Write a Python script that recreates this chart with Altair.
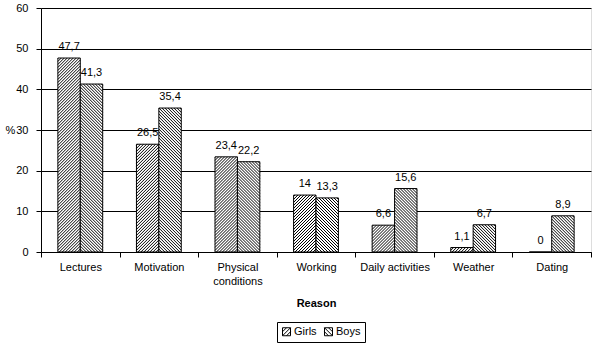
import altair as alt
import pandas as pd

categories = ["Lectures", "Motivation", "Physical conditions", "Working",
              "Daily activities", "Weather", "Dating"]
girls = [47.7, 26.5, 23.4, 14, 6.6, 1.1, 0]
boys = [41.3, 35.4, 22.2, 13.3, 15.6, 6.7, 8.9]
series = ["Girls", "Boys"]
y_ticks = [0, 10, 20, 30, 40, 50, 60]

W, H = 550, 244
YMAX = 60
NCAT = len(categories)
PX = W / NCAT          # pixels per category unit
PY = H / YMAX          # pixels per % unit
GAP = 0.215            # outer gap of a category (fraction)
BW = 0.285             # bar width (fraction of category)
SPACING = 3            # hatch spacing in px
FONT = "Liberation Sans"

rows = []
for i, c in enumerate(categories):
    for s, vals in zip(series, [girls, boys]):
        v = vals[i]
        rows.append({"cat": c, "idx": i, "series": s, "value": v,
                     "label": f"{v:g}".replace(".", ",")})
df = pd.DataFrame(rows)

base = alt.Chart(df).transform_calculate(
    x0=f"datum.idx + (datum.series == 'Girls' ? {GAP} : {GAP + BW})"
).transform_calculate(
    x1=f"datum.x0 + {BW}"
).transform_calculate(
    xc=f"datum.x0 + {BW / 2}"
)

xq = alt.Scale(domain=[0, NCAT], nice=False, zero=False)
ys = alt.Scale(domain=[0, YMAX], nice=False)

yaxis = alt.Axis(values=y_ticks, grid=True, gridColor="black", gridOpacity=1,
                 gridWidth=1, domainColor="black", tickColor="black", tickSize=5,
                 labelFont=FONT, labelFontSize=11, labelColor="black", labelPadding=8,
                 title="%", titleAngle=0, titleX=-31, titleY=122, titleAlign="center",
                 titleBaseline="middle", titleFont=FONT, titleFontSize=11,
                 titleFontWeight="normal", titleColor="black")

xaxis = alt.Axis(orient="bottom", tickBand="extent", labelAngle=0,
                 labelExpr="datum.label == 'Physical conditions' ? ['Physical', 'conditions'] : datum.label",
                 labelLineHeight=14, labelFont=FONT, labelFontSize=11, labelColor="black",
                 labelPadding=4, domainColor="black", tickColor="black", tickSize=5,
                 title="Reason", titleFont=FONT, titleFontSize=11, titleFontWeight="bold",
                 titleColor="black", titleY=51, titleBaseline="middle", grid=False)

axis_layer = alt.Chart(df).mark_rule(opacity=0).encode(
    x=alt.X("cat:N", sort=categories,
            scale=alt.Scale(type="band", paddingInner=0, paddingOuter=0), axis=xaxis)
)

bars = base.mark_rect(fill="white", stroke="black", strokeWidth=1).encode(
    x=alt.X("x0:Q", scale=xq, axis=None),
    x2="x1:Q",
    y=alt.Y("value:Q", scale=ys, axis=yaxis),
    y2=alt.datum(0),
)

hatch = base.transform_calculate(
    wp=f"{BW * PX}"
).transform_calculate(
    hp=f"datum.value * {PY}"
).transform_calculate(
    k="sequence(0, 120)"
).transform_flatten(["k"]).transform_calculate(
    c=f"datum.series == 'Girls' ? -datum.wp + datum.k * {SPACING} : datum.k * {SPACING}"
).transform_calculate(
    xs="datum.series == 'Girls' ? max(0, -datum.c) : max(0, datum.c - datum.hp)"
).transform_calculate(
    xe="datum.series == 'Girls' ? min(datum.wp, datum.hp - datum.c) : min(datum.wp, datum.c)"
).transform_filter("datum.xe > datum.xs + 0.01").transform_calculate(
    us="datum.series == 'Girls' ? datum.xs + datum.c : datum.c - datum.xs"
).transform_calculate(
    ue="datum.series == 'Girls' ? datum.xe + datum.c : datum.c - datum.xe"
).transform_calculate(
    hx1=f"datum.x0 + datum.xs / {PX}"
).transform_calculate(
    hx2=f"datum.x0 + datum.xe / {PX}"
).transform_calculate(
    hy1=f"datum.us / {PY}"
).transform_calculate(
    hy2=f"datum.ue / {PY}"
).mark_rule(color="black", strokeWidth=1).encode(
    x=alt.X("hx1:Q", scale=xq, axis=None),
    x2="hx2:Q",
    y=alt.Y("hy1:Q", scale=ys, title="%"),
    y2="hy2:Q",
)

labels = base.mark_text(baseline="alphabetic", dy=-8, font=FONT, fontSize=11,
                        color="black").encode(
    x=alt.X("xc:Q", scale=xq, axis=None),
    y=alt.Y("value:Q", scale=ys, title="%"),
    text="label:N",
)

P_G = "M-1,-1H1V1H-1Z M-1,1L1,-1 M-1,0L0,-1 M0,1L1,0"
P_B = "M-1,-1H1V1H-1Z M-1,-1L1,1 M0,-1L1,0 M-1,0L0,1"

legend_layer = base.mark_point(opacity=0).encode(
    x=alt.X("xc:Q", scale=xq, axis=None),
    y=alt.Y("value:Q", scale=ys, title="%"),
    shape=alt.Shape("series:N", scale=alt.Scale(domain=series, range=[P_G, P_B]),
                    legend=alt.Legend(orient="none", legendX=236, legendY=314,
                                      direction="horizontal", title=None,
                                      strokeColor="black", padding=4, cornerRadius=0,
                                      symbolSize=64, symbolFillColor="white",
                                      symbolStrokeColor="black", symbolStrokeWidth=1,
                                      symbolOpacity=1, labelFont=FONT, labelFontSize=11,
                                      labelColor="black", labelOffset=2, columnPadding=5)),
)

chart = alt.layer(axis_layer, bars, hatch, labels, legend_layer).resolve_scale(
    x="independent"
).properties(
    width=W, height=H,
    autosize=alt.AutoSizeParams(type="none"),
    padding={"left": 41, "top": 8, "right": 6, "bottom": 100},
    background="white",
).configure_view(stroke="black", strokeWidth=1).configure(font=FONT)

chart.save("out.html", embed_options={"renderer": "svg", "actions": False})
